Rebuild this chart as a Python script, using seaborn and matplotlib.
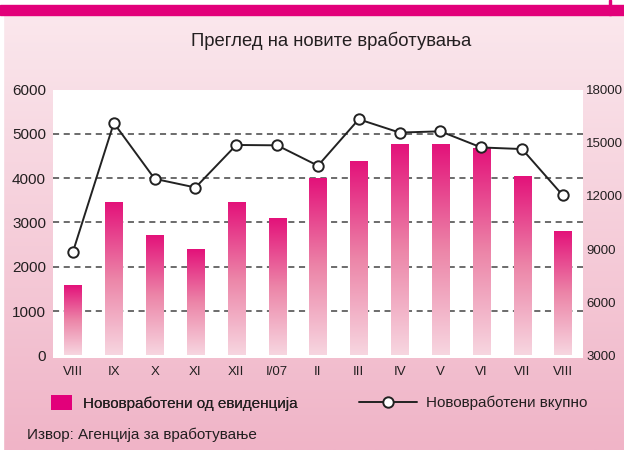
import numpy as np
import pandas as pd
import seaborn as sns
import matplotlib.pyplot as plt
from matplotlib.colors import LinearSegmentedColormap
from matplotlib.patches import Patch, Rectangle
from matplotlib.lines import Line2D

# data
months = ['VIII', 'IX', 'X', 'XI', 'XII', 'I/07', 'II', 'III', 'IV', 'V', 'VI', 'VII', 'VIII']
from_register = [1560, 3440, 2690, 2370, 3440, 3070, 3980, 4360, 4750, 4750, 4660, 4020, 2780]
total = [8850, 16110, 12960, 12470, 14870, 14850, 13700, 16320, 15570, 15640, 14730, 14640, 12020]
left_ticks = [0, 1000, 2000, 3000, 4000, 5000, 6000]
right_ticks = [3000, 6000, 9000, 12000, 15000, 18000]

df = pd.DataFrame({'pos': range(len(months)), 'month': months,
                   'from_register': from_register, 'total': total})

sns.set_style('white')
plt.rcParams['font.family'] = ['Liberation Sans', 'DejaVu Sans']
ink = '#231f20'
magenta = '#e2007a'

fig = plt.figure(figsize=(6.24, 4.5), dpi=100)
W, H = 624, 450

# pink gradient background + magenta band at the top
bg = fig.add_axes([0, 0, 1, 1], zorder=-10)
bg_cmap = LinearSegmentedColormap.from_list('bg', ['#fbe9ee', '#f0b4c7'])
bg.imshow(np.linspace(0, 1, 256).reshape(-1, 1), aspect='auto', cmap=bg_cmap,
          extent=[0, 1, 0, 1], origin='upper')
bg.add_patch(Rectangle((0, 1 - 5 / H), 1, 5 / H, color='white'))
bg.add_patch(Rectangle((0, 0), 3 / W, 1, color='white'))
bg.add_patch(Rectangle((0, 1 - 15 / H), 1, 10 / H, color=magenta))
bg.add_patch(Rectangle((609 / W, 1 - 15 / H), 2 / W, 15 / H, color=magenta))
bg.set_xlim(0, 1)
bg.set_ylim(0, 1)
bg.axis('off')

# main axes
ax = fig.add_axes([53 / W, 1 - 358 / H, 529.5 / W, 268.5 / H])
ax.set_facecolor('white')
sns.barplot(data=df, x='pos', y='from_register', ax=ax, width=0.42,
            color=magenta, saturation=1)

# vertical gradient inside each bar
bar_cmap = LinearSegmentedColormap.from_list('bar', ['#f7d6e0', '#ec85a8', '#e3127a'])
for p in ax.patches:
    x0, y0 = p.get_x(), p.get_y()
    x1, y1 = x0 + p.get_width(), y0 + p.get_height()
    ax.imshow(np.linspace(0, 1, 256).reshape(-1, 1), aspect='auto', cmap=bar_cmap,
              extent=[x0, x1, y0, y1], origin='lower', zorder=2)
    p.set_visible(False)

ax.set_xlim(-0.49, len(months) - 1 + 0.48)
ax.set_ylim(-60, 6000)
ax.set_yticks(left_ticks)
ax.set_xticks(df['pos'])
ax.set_xticklabels(months)
ax.set_xlabel('')
ax.set_ylabel('')
ax.set_axisbelow(True)
ax.yaxis.grid(True, linestyle=(0, (4, 3)), color='#444444', lw=1.1)
gl = ax.get_ygridlines()
gl[0].set_visible(False)
gl[-1].set_visible(False)
ax.tick_params(axis='y', length=0, pad=5, labelsize=11, labelcolor=ink)
ax.tick_params(axis='x', length=0, pad=6, labelsize=9.5, labelcolor=ink)
for s in ax.spines.values():
    s.set_visible(False)

# line on the right axis
ax2 = ax.twinx()
sns.lineplot(data=df, x='pos', y='total', ax=ax2, color='#222222', lw=1.4,
             marker='o', markersize=7.5, markerfacecolor='white',
             markeredgecolor='#222222', markeredgewidth=1.4, zorder=5)
ax2.set_ylim(3000 - 60 * 2.5, 18000)
ax2.set_yticks(right_ticks)
ax2.set_ylabel('')
ax2.set_xlabel('')
ax2.tick_params(axis='y', length=0, pad=2.5, labelsize=9.5, labelcolor=ink)
for s in ax2.spines.values():
    s.set_visible(False)
ax.set_xlim(-0.49, len(months) - 1 + 0.48)

# title, legend, source
fig.text(331 / W, 1 - 41 / H, 'Преглед на новите вработувања', ha='center',
         va='center', fontsize=13.3, color=ink)

fs = 11
leg1 = fig.legend(handles=[Patch(facecolor=magenta, edgecolor='none')],
                  labels=['Нововработени од евиденција'], loc='center left',
                  bbox_to_anchor=(51 / W, 1 - 403 / H), frameon=False, fontsize=fs,
                  borderpad=0, borderaxespad=0, handlelength=1.4, handleheight=1.15,
                  handletextpad=0.7, labelcolor=ink)
fig.add_artist(leg1)
fig.legend(handles=[Line2D([], [], color='#222222', lw=1.4, marker='o', markersize=7.5,
                           markerfacecolor='white', markeredgecolor='#222222',
                           markeredgewidth=1.4)],
           labels=['Нововработени вкупно'], loc='center left',
           bbox_to_anchor=(359 / W, 1 - 403 / H), frameon=False, fontsize=fs,
           borderpad=0, borderaxespad=0, handlelength=3.8, handletextpad=0.6,
           labelcolor=ink)

fig.text(27 / W, 1 - 435 / H, 'Извор: Агенција за вработување', ha='left',
         va='center', fontsize=11, color=ink)

fig.savefig('out.png', dpi=100)
